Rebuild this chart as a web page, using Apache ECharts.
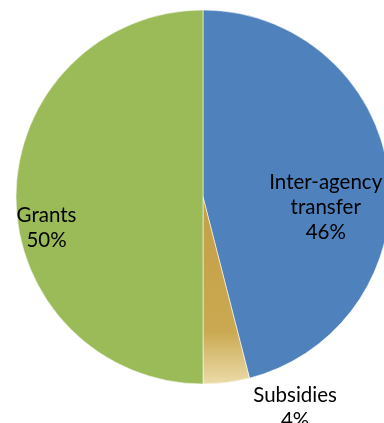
<!DOCTYPE html>
<html>
<head>
<meta charset="utf-8">
<script src="https://cdn.jsdelivr.net/npm/echarts@6/dist/echarts.min.js"></script>
<style>
  html, body { margin: 0; padding: 0; background: #ffffff; }
  #chart { width: 384px; height: 423px; }
</style>
</head>
<body>
<div id="chart"></div>
<script>
// Funding sources, share in percent
const categories = ['Inter-agency\ntransfer', 'Subsidies', 'Grants'];
const shares = [46, 4, 50];

// label nudges from the default inside position (pixels)
const labelShift = [
  { dx: 27, dy: 22 },
  { dx: 80, dy: 115 },
  { dx: -60, dy: 31 }
];

const sliceColors = [
  '#4f81bd',
  {
    type: 'linear', x: 0, y: 0, x2: 0, y2: 1,
    colorStops: [
      { offset: 0, color: '#c49f45' },
      { offset: 0.72, color: '#caa952' },
      { offset: 1, color: '#ecdcaa' }
    ]
  },
  '#9bbb59'
];

const chart = echarts.init(document.getElementById('chart'), null, { renderer: 'canvas' });

chart.setOption({
  animation: false,
  backgroundColor: '#ffffff',
  series: [{
    type: 'pie',
    center: [203, 197],
    radius: [0, 187],
    startAngle: 90,
    clockwise: true,
    avoidLabelOverlap: false,
    itemStyle: {
      borderColor: 'rgba(255,255,255,0.55)',
      borderWidth: 1
    },
    label: {
      show: true,
      position: 'inside',
      color: '#000000',
      fontFamily: 'Lato',
      fontSize: 20.5,
      lineHeight: 25,
      align: 'center',
      formatter: p => p.name + '\n' + p.value + '%'
    },
    labelLine: { show: false },
    labelLayout: p => labelShift[p.dataIndex],
    emphasis: { disabled: true },
    data: categories.map((name, i) => ({
      name: name,
      value: shares[i],
      itemStyle: { color: sliceColors[i] }
    }))
  }]
});
</script>
</body>
</html>
